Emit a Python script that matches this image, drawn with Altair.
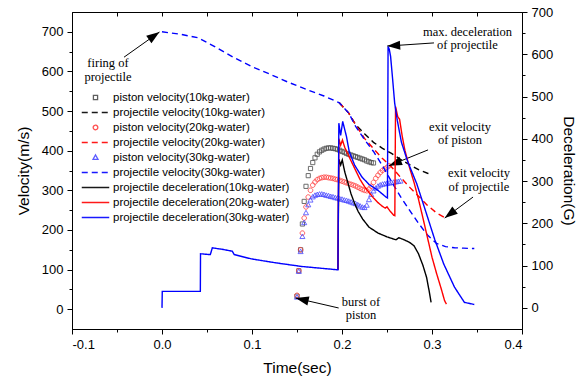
import altair as alt
import pandas as pd

# ---------------- series / legend definitions ----------------
SERIES = [
    "piston velocity(10kg-water)",
    "projectile velocity(10kg-water)",
    "piston velocity(20kg-water)",
    "projectile velocity(20kg-water)",
    "piston velocity(30kg-water)",
    "projectile velocity(30kg-water)",
    "projectile deceleration(10kg-water)",
    "projectile deceleration(20kg-water)",
    "projectile deceleration(30kg-water)",
]
COLORS = ["#4d4d4d", "#000000", "#ff3b3b", "#ff0000", "#4a4aff", "#0000ff",
          "#000000", "#ff0000", "#0000ff"]
SQ = "M-0.38,-0.38L0.38,-0.38L0.38,0.38L-0.38,0.38Z"
CI = "M0.42,0A0.42,0.42,0,1,1,-0.42,0A0.42,0.42,0,1,1,0.42,0Z"
TR = "M0,-0.48L0.46,0.34L-0.46,0.34Z"
LN = "M-2.5,0L2.5,0"
SHAPES = [SQ, LN, CI, LN, TR, LN, LN, LN, LN]
DASHES = [[1, 0], [6, 4], [1, 0], [6, 4], [1, 0], [6, 4], [1, 0], [1, 0], [1, 0]]

# ---------------- piston velocities (m/s) ----------------
t_pist10 = [0.150, 0.152, 0.154, 0.156, 0.158, 0.160, 0.1625, 0.165, 0.1675, 0.170,
            0.1725, 0.175, 0.1775, 0.180, 0.1825, 0.185, 0.1875, 0.190, 0.1925, 0.195,
            0.1975, 0.200, 0.2025, 0.205, 0.2075, 0.210, 0.2125, 0.215, 0.2175, 0.220,
            0.2225, 0.225, 0.2275, 0.230, 0.2325, 0.235]
v_pist10 = [33, 97, 150, 215, 272, 310, 337, 355, 370, 382,
            391, 397, 401, 404, 406, 407, 407, 406, 405, 403,
            401, 398, 396, 393, 391, 389, 387, 385, 383, 381,
            379, 377, 374, 372, 370, 369]

t_pist20 = [0.150, 0.152, 0.154, 0.156, 0.158, 0.160, 0.1625, 0.165, 0.1675, 0.170,
            0.1725, 0.175, 0.1775, 0.180, 0.1825, 0.185, 0.1875, 0.190, 0.1925, 0.195,
            0.1975, 0.200, 0.2025, 0.205, 0.2075, 0.210, 0.2125, 0.215, 0.2175, 0.220,
            0.2225, 0.225, 0.2275, 0.230, 0.2325, 0.235, 0.2375, 0.240, 0.2425, 0.245,
            0.2475, 0.250, 0.2525]
v_pist20 = [35, 97, 150, 192, 230, 258, 283, 300, 313, 321,
            327, 330, 332, 333, 333, 332, 331, 330, 328, 327,
            325, 323, 321, 319, 317, 315, 313, 311, 308, 305,
            302, 300, 299, 303, 310, 320, 330, 338, 345, 350,
            354, 358, 362]

t_pist30 = [0.150, 0.152, 0.154, 0.156, 0.158, 0.160, 0.1625, 0.165, 0.1675, 0.170,
            0.1725, 0.175, 0.1775, 0.180, 0.1825, 0.185, 0.1875, 0.190, 0.1925, 0.195,
            0.1975, 0.200, 0.2025, 0.205, 0.2075, 0.210, 0.2125, 0.215, 0.2175, 0.220,
            0.2225, 0.225, 0.2275, 0.230, 0.2325, 0.235, 0.2375, 0.240, 0.2425, 0.245,
            0.2475, 0.250, 0.2525, 0.255, 0.2575, 0.260, 0.2625, 0.265]
v_pist30 = [30, 95, 145, 183, 218, 243, 263, 275, 283, 287,
            289, 290, 290, 289, 287, 286, 284, 283, 281, 280,
            278, 277, 275, 274, 272, 270, 268, 266, 263, 260,
            257, 256, 262, 276, 289, 298, 305, 310, 313, 315,
            316, 317, 318, 319, 320, 321, 322, 323]

# ---------------- projectile velocities (m/s) ----------------
t_proj10 = [0.197, 0.2075, 0.215, 0.225, 0.235, 0.245, 0.255, 0.265, 0.275, 0.285, 0.295, 0.300]
v_proj10 = [521, 495, 466, 443, 421, 406, 393, 378, 365, 352, 343, 340]

t_proj20 = [0.197, 0.2075, 0.215, 0.225, 0.235, 0.245, 0.255, 0.265, 0.275, 0.285, 0.295, 0.305, 0.316]
v_proj20 = [521, 495, 466, 431, 405, 380, 359, 333, 308, 285, 262, 243, 229]

t_proj30 = [0.0, 0.02, 0.04, 0.06, 0.08, 0.10, 0.12, 0.14, 0.16, 0.18, 0.197, 0.2075, 0.215,
            0.225, 0.235, 0.245, 0.255, 0.265, 0.275, 0.285, 0.295, 0.305, 0.315, 0.325,
            0.335, 0.347]
v_proj30 = [700, 694, 685, 661, 635, 612, 593, 573, 555, 538, 521, 495, 462,
            428, 398, 362, 322, 284, 250, 217, 187, 166, 158, 155,
            154, 153]

# ---------------- projectile decelerations (G) ----------------
# early phase (before piston burst) only the 30kg curve is visible on top
t_dec_early = [0.0, 0.0003, 0.0426, 0.0428, 0.0537, 0.0559, 0.0685, 0.0781, 0.0803,
               0.099, 0.125, 0.155, 0.1955]
g_dec_early = [0, 39, 39, 128, 126, 142, 138, 134, 126, 116, 107, 98, 90]

t_dec10 = [0.1955, 0.1965, 0.1985, 0.2003, 0.203, 0.206, 0.210, 0.214, 0.218, 0.223, 0.230,
           0.240, 0.250, 0.260, 0.263, 0.268, 0.275, 0.280, 0.285, 0.290, 0.294,
           0.297, 0.299]
g_dec10 = [90, 352, 338, 350, 322, 300, 270, 247, 228, 210, 191,
           177, 168, 161, 166, 162, 155, 147, 128, 100, 72,
           38, 13]

t_dec20 = [0.1955, 0.1965, 0.1985, 0.2005, 0.203, 0.206, 0.210, 0.215, 0.220, 0.225, 0.230,
           0.235, 0.240, 0.245, 0.248, 0.250, 0.253, 0.2575, 0.2587, 0.2595, 0.262,
           0.264, 0.267, 0.270, 0.275, 0.280, 0.285, 0.290, 0.295, 0.300, 0.305,
           0.310, 0.314, 0.316]
g_dec20 = [90, 400, 385, 397, 380, 366, 348, 326, 304, 287, 273,
           260, 249, 240, 236, 239, 230, 219, 218, 476, 452,
           446, 405, 372, 332, 297, 257, 212, 166, 120, 82,
           47, 17, 9]

t_dec30 = [0.1965, 0.1985, 0.2008, 0.205, 0.208, 0.214, 0.222, 0.230, 0.240, 0.249,
           0.2505, 0.2512, 0.2525, 0.254, 0.2563, 0.2585, 0.2614, 0.266, 0.273, 0.283,
           0.292, 0.303, 0.313, 0.325, 0.336, 0.347]
g_dec30 = [437, 408, 441, 405, 370, 338, 310, 292, 278, 262,
           260, 618, 612, 595, 540, 485, 444, 392, 346, 294,
           235, 162, 104, 49, 13, 8]

# ---------------- annotations ----------------
ann_text = ["firing of", "projectile", "max. deceleration", "of projectile",
            "exit velocity", "of piston", "exit velocity", "of projectile",
            "burst of", "piston"]
ann_t = [-0.060, -0.060, 0.3394, 0.3394, 0.3311, 0.3311, 0.3522, 0.3522, 0.2211, 0.2211]
ann_v = [621, 586, 700, 667, 460, 427, 343, 309, 19, -15]

arr_t = [-0.0422, 0.3022, 0.2956, 0.3456, 0.1963]
arr_v = [636, 672, 402, 283, 3]
arr_t2 = [-0.0028, 0.2502, 0.2522, 0.3141, 0.1486]
arr_v2 = [699.5, 664, 362, 230, 28]
arr_ang = [325, 176, 158, 143, 193]

X_TICKS = [-0.1, -0.05, 0.0, 0.05, 0.1, 0.15, 0.2, 0.25, 0.3, 0.35, 0.4]
Y_TICKS = [0, 50, 100, 150, 200, 250, 300, 350, 400, 450, 500, 550, 600, 650, 700]
ARROW = "M0,0L-2,-0.7L-2,0.7Z"


def frame(pairs):
    rows = []
    for name, ts, vs in pairs:
        for t, v in zip(ts, vs):
            rows.append({"t": t, "val": v, "series": name})
    return pd.DataFrame(rows)


df_pist = frame([(SERIES[0], t_pist10, v_pist10), (SERIES[2], t_pist20, v_pist20),
                 (SERIES[4], t_pist30, v_pist30)])
df_proj = frame([(SERIES[1], t_proj10, v_proj10), (SERIES[3], t_proj20, v_proj20),
                 (SERIES[5], t_proj30, v_proj30)])
df_dec = frame([(SERIES[6], t_dec10, g_dec10),
                (SERIES[7], t_dec20, g_dec20),
                (SERIES[8], t_dec_early + t_dec30, g_dec_early + g_dec30)])
df_txt = pd.DataFrame({"t": ann_t, "v": ann_v, "label": ann_text})
df_arr = pd.DataFrame({"t": arr_t, "v": arr_v, "t2": arr_t2, "v2": arr_v2, "ang": arr_ang})

# ---------------- scales / axes / legend ----------------
xs = alt.Scale(domain=[-0.1, 0.4], nice=False, zero=False)
yl = alt.Scale(domain=[-50, 750], nice=False, zero=False)
yr = alt.Scale(domain=[-50, 700], nice=False, zero=False)

minor_x = "abs(datum.value*10 - round(datum.value*10)) > 0.001"
x_axis = alt.Axis(
    orient="bottom", values=X_TICKS, title="Time(sec)",
    labelExpr="abs(datum.value*10 - round(datum.value*10)) < 0.001 ? "
              "(datum.value < -0.0001 ? '-' : '') + format(abs(datum.value), '.1f') : ''",
    tickSize={"condition": {"test": minor_x, "value": 3}, "value": 5},
    labelPadding=4, titlePadding=9,
)
# second copy of the time axis along the top edge: ticks only, pointing into the plot
top_axis = alt.Axis(orient="top", values=X_TICKS, labelExpr="''", labelFontSize=1,
                    domain=False, ticks=True, tickSize=4, tickWidth=1, tickColor="black",
                    offset=-4, title="")
yl_axis = alt.Axis(
    orient="left", values=Y_TICKS, title="Velocity(m/s)",
    labelExpr="datum.value % 100 == 0 ? datum.label : ''",
    tickSize={"condition": {"test": "datum.value % 100 != 0", "value": 3}, "value": 5},
    labelPadding=4, titlePadding=10,
)
yr_axis = alt.Axis(
    orient="right", values=Y_TICKS, title="Deceleration(G)",
    labelExpr="datum.value % 100 == 0 ? datum.label : ''",
    tickSize={"condition": {"test": "datum.value % 100 != 0", "value": 3}, "value": 5},
    labelPadding=4, titlePadding=8,
)

leg = alt.Legend(orient="none", legendX=17, legendY=79, labelFont="Liberation Sans",
                 labelFontSize=11.5, labelColor="black", labelLimit=300, labelOffset=11,
                 symbolSize=121, symbolStrokeWidth=1.3, rowPadding=3.0, padding=0)
color_enc = alt.Color("series:N", scale=alt.Scale(domain=SERIES, range=COLORS), legend=leg, title=None)
shape_enc = alt.Shape("series:N", scale=alt.Scale(domain=SERIES, range=SHAPES), legend=leg, title=None)
dash_enc = alt.StrokeDash("series:N", scale=alt.Scale(domain=SERIES, range=DASHES), legend=leg, title=None)

X_L = alt.X("t:Q", scale=xs, axis=x_axis)

# ---------------- layers ----------------
pts = alt.Chart(df_pist).mark_point(filled=False, size=121, strokeWidth=0.9, opacity=0.9).encode(
    x=X_L, y=alt.Y("val:Q", scale=yl, axis=yl_axis),
    color=color_enc, shape=shape_enc,
)
proj = alt.Chart(df_proj).mark_line(strokeWidth=1.4).encode(
    x=X_L, y=alt.Y("val:Q", scale=yl, axis=yl_axis),
    color=color_enc, strokeDash=dash_enc,
)
txt = alt.Chart(df_txt).mark_text(font="Liberation Serif", fontSize=12.5, color="black").encode(
    x=X_L, y=alt.Y("v:Q", scale=yl, axis=yl_axis),
    text="label:N",
)
rules = alt.Chart(df_arr).mark_rule(color="black", strokeWidth=1).encode(
    x=X_L, y=alt.Y("v:Q", scale=yl, axis=yl_axis),
    x2="t2:Q", y2="v2:Q",
)
heads = alt.Chart(df_arr).mark_point(shape=ARROW, filled=True, size=169, color="black", opacity=1).encode(
    x=alt.X("t2:Q", scale=xs, axis=x_axis), y=alt.Y("v2:Q", scale=yl, axis=yl_axis),
    angle=alt.Angle("ang:Q", scale=None),
)
left = alt.layer(pts, proj, txt, rules, heads)

dec = alt.Chart(df_dec).mark_line(strokeWidth=1.4).encode(
    x=alt.X("t:Q", scale=xs, axis=top_axis),
    y=alt.Y("val:Q", scale=yr, axis=yr_axis),
    color=color_enc, strokeDash=dash_enc,
)

chart = alt.layer(left, dec).resolve_scale(y="independent").resolve_axis(x="independent").properties(
    width=450, height=317,
    autosize=alt.AutoSizeParams(type="none"),
    padding={"left": 72, "top": 12, "right": 63, "bottom": 55},
    background="white",
).configure_view(stroke="black", strokeWidth=1).configure_axis(
    labelFont="Liberation Sans", labelFontSize=13, labelColor="black",
    titleFont="Liberation Sans", titleFontSize=15.5, titleFontWeight="normal", titleColor="black",
    domainColor="black", tickColor="black", grid=False,
)

chart.save("out.html", embed_options={"renderer": "svg", "actions": False})
